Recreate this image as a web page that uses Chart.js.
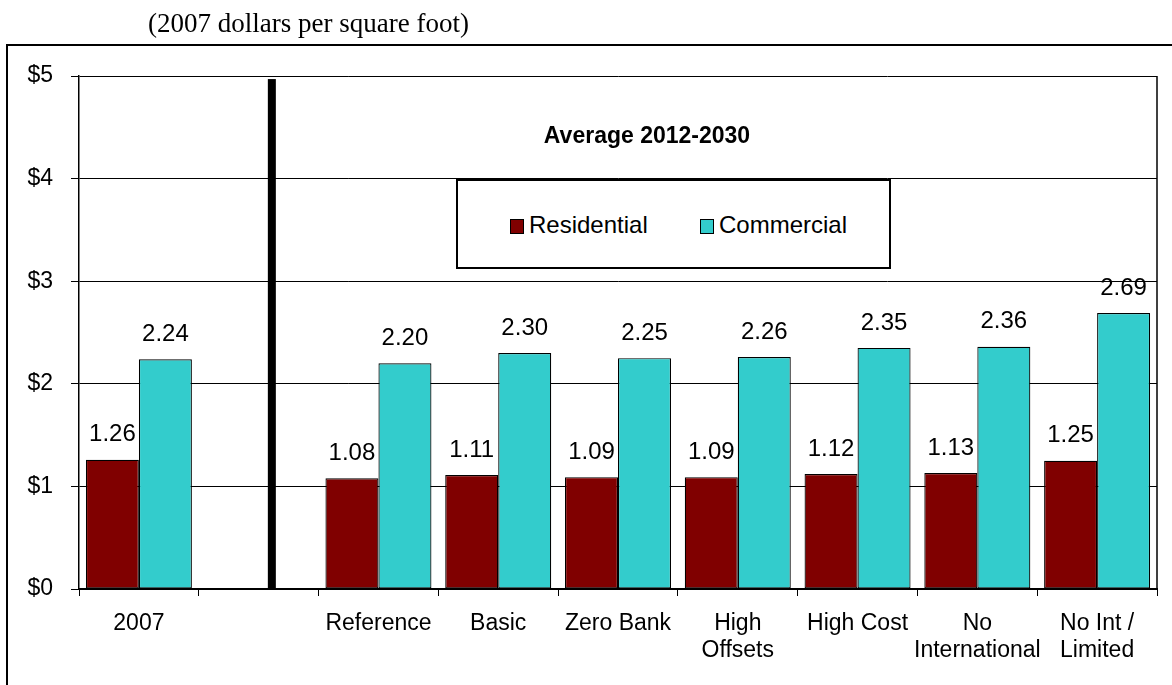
<!DOCTYPE html>
<html>
<head>
<meta charset="utf-8">
<script src="https://cdn.jsdelivr.net/npm/chart.js@4.4.0/dist/chart.umd.min.js"></script>
<style>
  body { margin: 0; background: #fff; }
  #wrap { position: relative; width: 1172px; height: 685px; overflow: hidden; }
  #frame { position: absolute; left: 6px; top: 44px; width: 1200px; height: 700px; border: 2px solid #000; }
  #units { position: absolute; left: 148px; top: 10px; font: 27px "Liberation Serif", "Times New Roman", serif; line-height: 1; white-space: nowrap; }
  #period { position: absolute; left: 527px; top: 122px; width: 240px; text-align: center; font: bold 23px "Liberation Sans", Arial, sans-serif; line-height: 26px; }
  #legend { position: absolute; left: 456px; top: 179px; width: 431px; height: 86px; border: 2px solid #000; background: #fff; }
  .item { position: absolute; top: 30px; font: 24px "Liberation Sans", Arial, sans-serif; line-height: 28px; white-space: nowrap; }
  .item span { display: inline-block; width: 12px; height: 13px; border: 1px solid #000; margin-right: 5px; vertical-align: -1px; }
  canvas { position: absolute; left: 0; top: 0; }
</style>
</head>
<body>
<div id="wrap">
  <div id="frame"></div>
  <canvas id="grafica" width="1172" height="685"></canvas>
  <div id="units">(2007 dollars per square foot)</div>
  <div id="period">Average 2012-2030</div>
  <div id="legend"></div>
</div>
<script>
// datos
const categorias = ['2007', '', 'Reference', 'Basic', 'Zero Bank', ['High', 'Offsets'], 'High Cost', ['No', 'International'], ['No Int /', 'Limited']];
const residencial = [1.26, null, 1.08, 1.11, 1.09, 1.09, 1.12, 1.13, 1.25];
const comercial = [2.24, null, 2.20, 2.30, 2.25, 2.26, 2.35, 2.36, 2.69];
const ticksY = [0, 1, 2, 3, 4, 5];

const fuente = '"Liberation Sans", Arial, sans-serif';

// etiquetas de valores sobre cada barra, separador y borde derecho
const extras = {
    id: 'extras',
    afterDatasetsDraw(chart) {
        const ctx = chart.ctx;
        const area = chart.chartArea;
        const x = chart.scales.x;
        const y = chart.scales.y;

        ctx.save();
        // linea separadora gruesa
        const xs = x.getPixelForValue(1.11);
        ctx.fillStyle = '#000';
        ctx.fillRect(xs - 4, y.getPixelForValue(4.97), 8, area.bottom - y.getPixelForValue(4.97));

        // borde derecho del area
        ctx.strokeStyle = '#000';
        ctx.lineWidth = 1.5;
        ctx.beginPath();
        ctx.moveTo(area.right, area.top);
        ctx.lineTo(area.right, area.bottom);
        ctx.stroke();

        ctx.font = '24px ' + fuente;
        ctx.textAlign = 'center';
        ctx.textBaseline = 'middle';
        chart.data.datasets.forEach((ds, i) => {
            chart.getDatasetMeta(i).data.forEach((bar, j) => {
                if (ds.data[j] === null) return;
                ctx.fillText(ds.data[j].toFixed(2), bar.x, bar.y - 25);
            });
        });
        ctx.restore();
    }
};

const ctx = document.getElementById('grafica').getContext('2d');
const chart = new Chart(ctx, {
    type: 'bar',
    data: {
        labels: categorias,
        datasets: [{
            label: 'Residential',
            data: residencial,
            backgroundColor: '#800000',
            borderColor: '#000',
            borderWidth: 1.2,
            borderSkipped: false
        }, {
            label: 'Commercial',
            data: comercial,
            backgroundColor: '#33CCCC',
            borderColor: '#000',
            borderWidth: 1.2,
            borderSkipped: false
        }]
    },
    options: {
        responsive: false,
        animation: false,
        layout: { padding: { top: 76, right: 15, bottom: 0, left: 0 } },
        datasets: { bar: { barPercentage: 1, categoryPercentage: 0.885 } },
        plugins: {
            legend: { display: false },
            tooltip: { enabled: false }
        },
        scales: {
            x: {
                grid: { drawOnChartArea: false, drawTicks: true, tickLength: 7, color: '#000', offset: true },
                border: { color: '#000', width: 2 },
                ticks: { color: '#000', padding: 14, maxRotation: 0, autoSkip: false, font: { family: fuente, size: 23, lineHeight: 1.17 } },
                afterFit: (s) => { s.height = 96; }
            },
            y: {
                min: 0,
                max: 5,
                afterBuildTicks: (s) => { s.ticks = ticksY.map(v => ({ value: v })); },
                grid: { color: '#000', lineWidth: 1, tickLength: 8 },
                border: { color: '#000', width: 1.5 },
                ticks: { color: '#000', padding: 18, font: { family: fuente, size: 23 }, callback: (v) => '$' + v },
                afterFit: (s) => { s.width = 79; }
            }
        }
    },
    plugins: [extras]
});

// leyenda en html, tomada de los datasets
const posiciones = [[52, 'Residential'], [242, 'Commercial']];
let html = '';
chart.data.datasets.forEach((ds, i) => {
    html += `<div class="item" style="left:${posiciones[i][0]}px"><span style="background:${ds.backgroundColor}"></span>${ds.label}</div>`;
});
document.getElementById('legend').innerHTML = html;
</script>
</body>
</html>
